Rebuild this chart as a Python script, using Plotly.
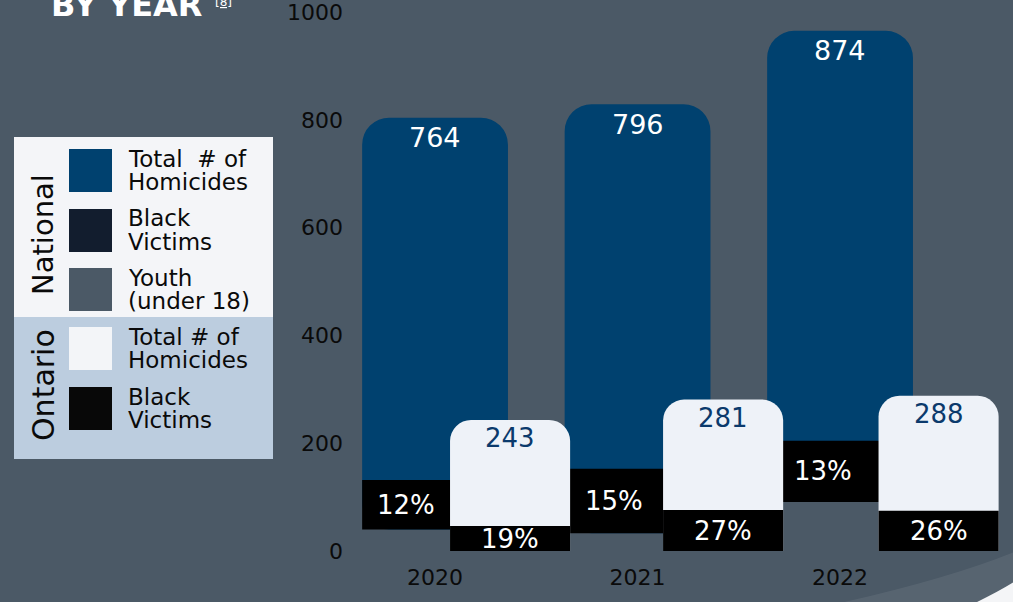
import plotly.graph_objects as go

# ---------------- data ----------------
years = ["2020", "2021", "2022"]
national_total = [764, 796, 874]
national_black_pct = [12, 15, 13]
ontario_total = [243, 281, 288]
ontario_black_pct = [19, 27, 26]

legend_groups = ["National", "Ontario"]
legend_line1 = ["Total  # of", "Black", "Youth", "Total # of", "Black"]
legend_line2 = ["Homicides", "Victims", "(under 18)", "Homicides", "Victims"]

y_ticks = [0, 200, 400, 600, 800, 1000]

# ---------------- styling / layout constants ----------------
BG = "#4b5966"
NAT_BLUE = "#00416f"
ONT_WHITE = "#eef2f8"
BLACK = "#000000"
ONT_TEXT = "#0b3a6c"
FONT = "DejaVu Sans"
legend_colors = ["#00416f", "#121d2e", "#4b5966", "#f3f5f8", "#080808"]

NAT_BASE = [40, 33, 91]          # floating baseline of national bars (design offset)
NAT_WIDTH = 0.72
NAT_OFFSET = -0.36
ONT_WIDTH = 0.593
ONT_OFFSET = [0.074, 0.126, 0.19]

W, H = 1013, 602
ML, MR, MT, MB = 350, 0, 12, 51
PW, PH = W - ML - MR, H - MT - MB


def px_x(px):
    return (px - ML) / PW


def px_y(py):
    return (H - MB - py) / PH


nat_black = [t * p / 100 for t, p in zip(national_total, national_black_pct)]
ont_black = [t * p / 100 for t, p in zip(ontario_total, ontario_black_pct)]

fig = go.Figure()

fig.add_trace(go.Bar(
    x=years, y=national_total, base=NAT_BASE,
    width=[NAT_WIDTH] * 3, offset=[NAT_OFFSET] * 3,
    marker=dict(color=NAT_BLUE, cornerradius=27, line=dict(width=0)),
    name="National total", hoverinfo="skip"))
fig.add_trace(go.Bar(
    x=years, y=nat_black, base=NAT_BASE,
    width=[NAT_WIDTH] * 3, offset=[NAT_OFFSET] * 3,
    marker=dict(color=BLACK, cornerradius=0, line=dict(width=0)),
    name="National black", hoverinfo="skip"))
fig.add_trace(go.Bar(
    x=years, y=ontario_total,
    width=[ONT_WIDTH] * 3, offset=ONT_OFFSET,
    marker=dict(color=ONT_WHITE, cornerradius=21, line=dict(width=0)),
    name="Ontario total", hoverinfo="skip"))
fig.add_trace(go.Bar(
    x=years, y=ont_black,
    width=[ONT_WIDTH] * 3, offset=ONT_OFFSET,
    marker=dict(color=BLACK, cornerradius=0, line=dict(width=0)),
    name="Ontario black", hoverinfo="skip"))

annotations = []
for i, yr in enumerate(years):
    annotations.append(dict(
        x=i, y=NAT_BASE[i] + national_total[i], xref="x", yref="y",
        text=str(national_total[i]), showarrow=False, yanchor="middle",
        yshift=-20, font=dict(family=FONT, size=27, color="white")))
    nat_left = NAT_OFFSET
    ont_left = ONT_OFFSET[i]
    annotations.append(dict(
        x=i + (nat_left + ont_left) / 2, y=NAT_BASE[i] + nat_black[i] / 2,
        xref="x", yref="y", text=f"{national_black_pct[i]}%", showarrow=False,
        yanchor="middle", font=dict(family=FONT, size=26, color="white")))
    ocx = i + ONT_OFFSET[i] + ONT_WIDTH / 2
    annotations.append(dict(
        x=ocx, y=ontario_total[i], xref="x", yref="y",
        text=str(ontario_total[i]), showarrow=False, yanchor="middle",
        yshift=-18, font=dict(family=FONT, size=26, color=ONT_TEXT)))
    annotations.append(dict(
        x=ocx, y=ont_black[i] / 2, xref="x", yref="y",
        text=f"{ontario_black_pct[i]}%", showarrow=False, yanchor="middle",
        font=dict(family=FONT, size=26, color="white")))

# title (cut off at top)
annotations.append(dict(
    x=px_x(49), y=px_y(5), xref="paper", yref="paper", xanchor="left",
    yanchor="middle", text="<b>BY YEAR</b>", showarrow=False,
    font=dict(family=FONT, size=32, color="white")))
annotations.append(dict(
    x=px_x(213), y=px_y(2), xref="paper", yref="paper", xanchor="left",
    yanchor="middle", text="<u>[8]</u>", showarrow=False,
    font=dict(family=FONT, size=12, color="white")))

shapes = []
shapes.append(dict(
    type="path", xref="paper", yref="paper", layer="below",
    path=(f"M {px_x(840)},{px_y(603)} Q {px_x(950)},{px_y(578)} {px_x(1014)},{px_y(552)} "
          f"L {px_x(1014)},{px_y(603)} Z"),
    fillcolor="rgba(255,255,255,0.07)", line=dict(width=0)))
shapes.append(dict(
    type="path", xref="paper", yref="paper", layer="above",
    path=(f"M {px_x(975)},{px_y(603)} Q {px_x(998)},{px_y(592)} {px_x(1014)},{px_y(582)} "
          f"L {px_x(1014)},{px_y(603)} Z"),
    fillcolor="#f4f5f7", line=dict(width=0)))

# legend boxes
shapes.append(dict(type="rect", xref="paper", yref="paper",
                   x0=px_x(14), x1=px_x(273), y0=px_y(317), y1=px_y(137),
                   fillcolor="#f4f5f8", line=dict(width=0)))
shapes.append(dict(type="rect", xref="paper", yref="paper",
                   x0=px_x(14), x1=px_x(273), y0=px_y(459), y1=px_y(317),
                   fillcolor="#bccddf", line=dict(width=0)))
swatch_tops = [149, 209, 268, 327, 387]
for k, top in enumerate(swatch_tops):
    shapes.append(dict(type="rect", xref="paper", yref="paper",
                       x0=px_x(69), x1=px_x(112), y0=px_y(top + 43), y1=px_y(top),
                       fillcolor=legend_colors[k], line=dict(width=0)))
    c = top + 21.5
    for txt, dy in ((legend_line1[k], -12), (legend_line2[k], 11)):
        annotations.append(dict(
            x=px_x(126), y=px_y(c + dy), xref="paper", yref="paper",
            xanchor="left", yanchor="middle", text=txt, showarrow=False,
            font=dict(family=FONT, size=23, color="#0a0a0a")))

for name, cy, sz in zip(legend_groups, [235, 385], [29, 30]):
    annotations.append(dict(
        x=px_x(43), y=px_y(cy), xref="paper", yref="paper",
        xanchor="center", yanchor="middle", text=name, textangle=-90,
        showarrow=False, font=dict(family=FONT, size=sz, color="#0a0a0a")))

fig.update_layout(
    width=W, height=H, autosize=False,
    margin=dict(l=ML, r=MR, t=MT, b=MB, pad=0),
    paper_bgcolor=BG, plot_bgcolor=BG,
    barmode="overlay", showlegend=False,
    annotations=annotations, shapes=shapes,
    xaxis=dict(type="category", range=[-0.42, 2.854], showgrid=False,
               zeroline=False, showline=False, ticks="",
               tickfont=dict(family=FONT, size=22, color="#0a0a0a"),
               ticklabelstandoff=11),
    yaxis=dict(range=[0, 1000], tickvals=y_ticks, showgrid=False,
               zeroline=False, showline=False, ticks="",
               tickfont=dict(family=FONT, size=22, color="#0a0a0a"),
               ticklabelstandoff=6, ticklabeloverflow="allow"),
)

fig.write_html(
    "out.html",
    config={"displayModeBar": False},
    post_script="document.body.style.margin='0';document.body.style.padding='0';"
                "document.documentElement.style.overflow='hidden';",
)
